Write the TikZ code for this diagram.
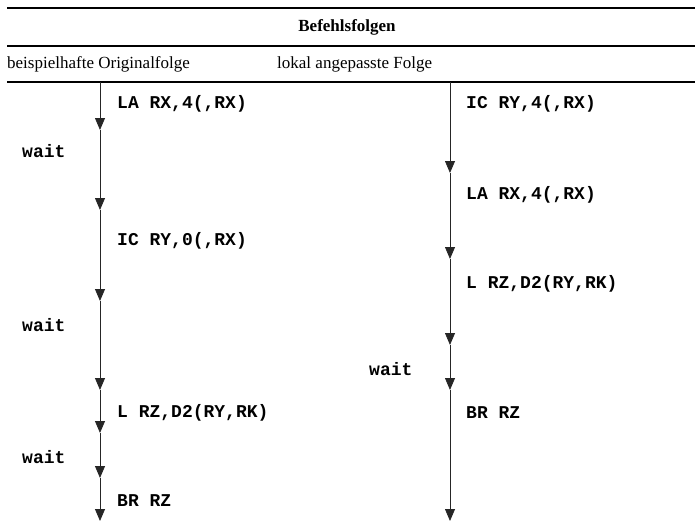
\documentclass[tikz,border=0pt]{standalone}
\usepackage{fontspec}
\setmainfont{Liberation Serif}
\newfontfamily\codefont{Liberation Mono}
\usetikzlibrary{arrows.meta}
\tikzset{
  rule/.style={line width=2pt},
  flow/.style={-{Triangle[width=10pt,length=12pt]},line width=0.8pt,black!85},
  cmd/.style={anchor=west,inner sep=0pt,font=\codefont\bfseries\fontsize{18}{20}\selectfont},
  head/.style={inner sep=0pt,font=\fontsize{17}{20}\selectfont}
}
\begin{document}
\begin{tikzpicture}[x=1pt,y=-1pt]
  \useasboundingbox (0,0) rectangle (695,522);
  % table head
  \draw[rule] (7,8) -- (695,8);
  \draw[rule] (7,46) -- (695,46);
  \draw[rule] (7,82) -- (695,82);
  \node[head,font=\bfseries\fontsize{17}{20}\selectfont] (title) at (347,27) {Befehlsfolgen};
  \node[head,anchor=west] (orig) at (7,64) {beispielhafte Originalfolge};
  \node[head,anchor=west] (lokal) at (277,64) {lokal angepasste Folge};
  % original sequence
  \coordinate (l0) at (100,82);
  \coordinate (l1) at (100,130);
  \coordinate (l2) at (100,210);
  \coordinate (l3) at (100,301);
  \coordinate (l4) at (100,390);
  \coordinate (l5) at (100,433);
  \coordinate (l6) at (100,478);
  \coordinate (l7) at (100,521);
  \draw[flow] (l0) -- (l1);
  \draw[flow] (l1) -- (l2);
  \draw[flow] (l2) -- (l3);
  \draw[flow] (l3) -- (l4);
  \draw[flow] (l4) -- (l5);
  \draw[flow] (l5) -- (l6);
  \draw[flow] (l6) -- (l7);
  \node[cmd] (la1) at (117,104) {LA RX,4(,RX)};
  \node[cmd] (w1) at (22,151) {wait};
  \node[cmd] (ic1) at (117,241) {IC RY,0(,RX)};
  \node[cmd] (w2) at (22,325) {wait};
  \node[cmd] (l1txt) at (117,413) {L RZ,D2(RY,RK)};
  \node[cmd] (w3) at (22,457) {wait};
  \node[cmd] (br1) at (117,501) {BR RZ};
  % adapted sequence
  \coordinate (r0) at (450,82);
  \coordinate (r1) at (450,173);
  \coordinate (r2) at (450,259);
  \coordinate (r3) at (450,345);
  \coordinate (r4) at (450,390);
  \coordinate (r5) at (450,521);
  \draw[flow] (r0) -- (r1);
  \draw[flow] (r1) -- (r2);
  \draw[flow] (r2) -- (r3);
  \draw[flow] (r3) -- (r4);
  \draw[flow] (r4) -- (r5);
  \node[cmd] (ic2) at (466,104) {IC RY,4(,RX)};
  \node[cmd] (la2) at (466,195) {LA RX,4(,RX)};
  \node[cmd] (l2txt) at (466,284) {L RZ,D2(RY,RK)};
  \node[cmd] (w4) at (369,369) {wait};
  \node[cmd] (br2) at (466,413) {BR RZ};
\end{tikzpicture}
\end{document}
